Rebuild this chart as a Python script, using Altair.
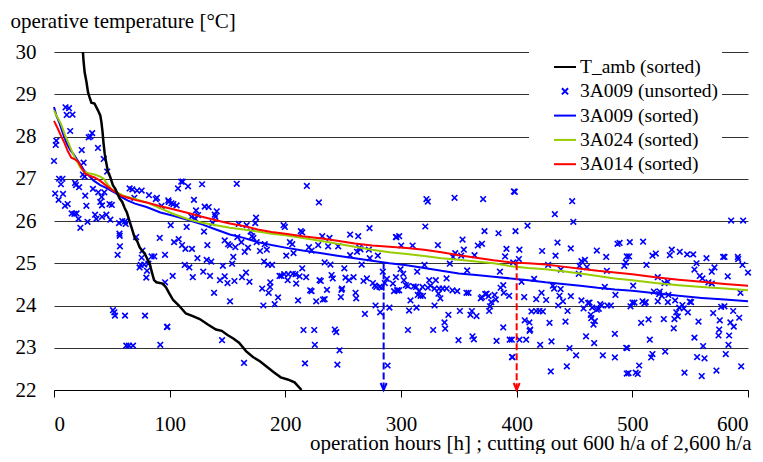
import altair as alt
import pandas as pd

# ---------------- data ----------------
names = ["T_amb (sorted)", "3A009 (unsorted)", "3A009 (sorted)", "3A024 (sorted)", "3A014 (sorted)"]
colors = ["#000000", "#0000ff", "#0000ff", "#99cc00", "#ff0000"]

x_ticks = [0, 100, 200, 300, 400, 500, 600]
y_ticks = [22, 23, 24, 25, 26, 27, 28, 29, 30]

tamb_h = [25, 25.5, 26.5, 28, 29.4, 30.5, 32.3, 35, 38, 40, 41, 42, 42.8, 43.8, 45, 46.7, 48.5, 51, 53,
          56.8, 59, 61.2, 63, 65.5, 67, 69.8, 72, 74, 76, 78.4, 82.7, 85, 86.5, 88.5, 94, 97, 99.4, 103,
          108, 114, 120, 126, 133, 140, 145, 150, 155, 160, 166, 172, 178, 184, 190, 196, 202, 208, 214]
tamb_t = [30.0, 29.8, 29.52, 29.3, 29.05, 28.95, 28.8, 28.78, 28.62, 28.5, 28.34, 28.1, 27.85, 27.6, 27.4,
          27.16, 27.05, 26.84, 26.76, 26.53, 26.45, 26.3, 26.2, 25.98, 25.85, 25.6, 25.52, 25.38, 25.3,
          25.23, 24.99, 24.75, 24.6, 24.55, 24.52, 24.42, 24.3, 24.13, 24.0, 23.81, 23.75, 23.68, 23.55,
          23.43, 23.4, 23.3, 23.22, 23.12, 22.92, 22.78, 22.68, 22.55, 22.42, 22.3, 22.25, 22.18, 22.0]

a009_h = [0, 2, 5, 8, 11, 14, 17, 20, 23, 26, 30, 34, 40, 46, 52, 58, 64, 70, 80, 92, 104, 116, 128, 140,
          152, 164, 176, 188, 200, 215, 230, 245, 260, 275, 290, 305, 320, 335, 350, 365, 380, 395, 410,
          425, 440, 455, 470, 485, 500, 520, 540, 560, 580, 600]
a009_t = [28.7, 28.5, 28.3, 28.05, 27.84, 27.68, 27.58, 27.45, 27.33, 27.2, 27.08, 26.96, 26.85, 26.77,
          26.68, 26.57, 26.48, 26.41, 26.33, 26.2, 26.12, 26.02, 25.92, 25.8, 25.68, 25.6, 25.5, 25.43,
          25.37, 25.3, 25.24, 25.18, 25.12, 25.06, 25.0, 24.95, 24.89, 24.82, 24.76, 24.72, 24.68, 24.64,
          24.6, 24.55, 24.51, 24.47, 24.42, 24.38, 24.35, 24.29, 24.23, 24.18, 24.14, 24.1]

a024_h = [0, 2, 4, 6, 8, 10, 12, 14, 16, 18, 20, 22, 24, 26, 30, 35, 40, 43, 46, 50, 54, 60, 70, 80, 92,
          104, 116, 128, 140, 152, 164, 176, 188, 200, 215, 230, 245, 260, 275, 290, 305, 320, 335, 350,
          365, 380, 395, 410, 425, 440, 455, 470, 485, 500, 520, 540, 560, 580, 600]
a024_t = [28.62, 28.5, 28.4, 28.3, 28.15, 28.0, 27.88, 27.75, 27.62, 27.5, 27.4, 27.3, 27.22, 27.17,
          27.13, 27.1, 27.05, 27.0, 26.88, 26.74, 26.68, 26.6, 26.52, 26.44, 26.3, 26.16, 26.04, 25.96,
          25.9, 25.84, 25.8, 25.75, 25.7, 25.66, 25.6, 25.53, 25.46, 25.39, 25.32, 25.26, 25.22, 25.17,
          25.12, 25.08, 25.04, 25.0, 24.93, 24.89, 24.86, 24.81, 24.76, 24.7, 24.64, 24.6, 24.53, 24.48,
          24.44, 24.4, 24.36]

a014_h = [0, 3, 6, 9, 12, 15, 18, 21, 24, 27, 30, 35, 40, 46, 52, 58, 64, 70, 80, 92, 104, 116, 128,
          140, 152, 164, 176, 188, 200, 215, 230, 245, 260, 275, 290, 305, 320, 335, 350, 365, 380, 395,
          410, 425, 440, 455, 470, 485, 500, 520, 540, 560, 580, 600]
a014_t = [28.37, 28.2, 28.02, 27.85, 27.65, 27.5, 27.46, 27.4, 27.25, 27.12, 27.08, 27.03, 26.95, 26.82,
          26.7, 26.6, 26.55, 26.5, 26.44, 26.35, 26.27, 26.19, 26.1, 26.02, 25.94, 25.88, 25.8, 25.74,
          25.7, 25.64, 25.59, 25.53, 25.47, 25.42, 25.39, 25.36, 25.32, 25.26, 25.19, 25.13, 25.07, 25.02,
          25.0, 24.97, 24.92, 24.87, 24.82, 24.78, 24.74, 24.67, 24.61, 24.56, 24.51, 24.47]

# 3A009 unsorted hourly values (h, T), split by 100 h ranges
scatter_000_100 = [
    (10, 28.69), (13, 28.67), (11, 28.51), (16, 28.52), (14, 28.13), (31.5, 28.0), (33, 28.08), (30, 27.98),
    (1.5, 27.8), (2, 27.9), (24, 27.68), (38, 27.73), (0, 27.42), (43, 27.47), (25.6, 27.38), (46, 27.17),
    (25, 27.1), (26.5, 27.05), (4.4, 27.0), (7.3, 27.0), (6, 26.87), (18.2, 26.9), (19, 26.85), (33.7, 26.76),
    (21.7, 26.8), (1, 26.65), (7.8, 26.64), (4, 26.5), (27, 26.6), (38.3, 26.68), (43.5, 26.68), (41.2, 26.57),
    (11.8, 26.4), (9.5, 26.36), (28, 26.36), (40, 26.45), (41.5, 26.37), (48, 26.4), (50, 26.38), (15.3, 26.18),
    (17.6, 26.17), (19.5, 26.18), (35.5, 26.15), (45.3, 26.15), (41.5, 26.1), (21.2, 26.05), (36.6, 26.05),
    (48.7, 26.03), (29, 25.98), (22.8, 25.84), (56.2, 25.95), (59, 26.0), (61.4, 25.99), (62, 25.93),
    (56.6, 25.7), (56.8, 25.65), (57, 25.4), (55, 25.2), (71, 25.62), (91.4, 25.6), (76.4, 25.3), (75.8, 25.13),
    (84.4, 25.16), (86.7, 25.16), (96, 25.2), (74, 24.9), (75, 24.96), (81.6, 24.99), (78, 24.97), (80.4, 24.82),
    (79.8, 24.66), (96, 24.55), (51, 23.89), (52.2, 23.84), (52.7, 23.76), (61.4, 23.76), (78.7, 23.76),
    (97.7, 23.49), (62.5, 23.05), (64.8, 23.05), (68.3, 23.05), (91.9, 23.07), (65.4, 26.77), (67.7, 26.75),
    (71.8, 26.72), (75.8, 26.72), (69.5, 26.55), (82.1, 26.61), (88, 26.52), (89, 26.55), (98.8, 26.49),
    (93, 26.36),
]
scatter_100_200 = [
    (110, 26.93), (111.3, 26.93), (107.2, 26.77), (115.9, 26.82), (128, 26.87), (158, 26.88), (121, 26.5),
    (99.2, 26.45), (101.5, 26.42), (103.2, 26.4), (106, 26.37), (130.3, 26.34), (133.7, 26.33), (122.8, 26.25),
    (140.7, 26.23), (139, 26.15), (139.5, 26.1), (124.5, 26.14), (118.8, 26.1), (122.2, 26.05), (174.7, 26.08),
    (137.2, 25.95), (100.9, 25.9), (114.7, 25.86), (159.7, 25.93), (166.6, 25.9), (174, 25.95), (129.7, 25.75),
    (170, 25.75), (171.2, 25.64), (172.4, 25.6), (158.5, 25.62), (147.6, 25.54), (150.5, 25.45), (103.8, 25.5),
    (107.8, 25.57), (110.7, 25.43), (113.6, 25.34), (119.3, 25.34), (132.6, 25.43), (152, 25.42), (156.8, 25.38),
    (162, 25.5), (167.7, 25.37), (175.2, 25.5), (182.2, 25.45), (178.1, 25.29), (164.9, 25.27), (184, 25.32),
    (155, 25.15), (124, 25.12), (132, 25.08), (136, 25.04), (154, 24.99), (146, 24.94), (181.6, 25.04),
    (185, 24.97), (188.5, 24.96), (113, 24.96), (117, 24.9), (129, 24.8), (102.6, 24.7), (120, 24.67),
    (134.9, 24.7), (166, 24.78), (147.6, 24.69), (143.5, 24.6), (156, 24.58), (150, 24.53), (162.6, 24.67),
    (169, 24.56), (180, 24.4), (187, 24.55), (186.8, 24.44), (138.4, 24.3), (185.6, 24.3), (193.7, 24.19),
    (196.6, 24.7), (152.2, 24.1), (181, 24.0), (190.8, 24.03), (98, 23.5), (145.3, 23.18), (164.3, 22.64),
]
scatter_200_300 = [
    (218.6, 26.83), (229, 26.44), (198.5, 25.9), (199.6, 25.86), (213.4, 25.76), (214.6, 25.73), (272.8, 25.83),
    (231.9, 25.64), (238.2, 25.6), (256, 25.68), (263, 25.64), (296, 25.62), (204, 25.5), (206, 25.45),
    (220.4, 25.38), (222.7, 25.3), (228.4, 25.43), (237, 25.4), (245.7, 25.4), (264, 25.37), (265, 25.33),
    (272.2, 25.32), (200.8, 25.18), (207.1, 25.24), (256, 25.19), (262, 25.27), (280, 25.18), (273, 25.12),
    (266, 24.97), (234, 25.02), (239, 24.97), (251, 24.88), (214.6, 24.88), (284.3, 24.8), (195, 24.7),
    (199, 24.74), (202.5, 24.74), (206.5, 24.75), (208.8, 24.74), (212.3, 24.69), (218, 24.67), (202, 24.6),
    (209.4, 24.52), (229.6, 24.6), (230.7, 24.58), (240, 24.72), (241, 24.64), (249, 24.4), (248.6, 24.37),
    (252, 24.66), (255, 24.6), (259, 24.67), (267.6, 24.58), (270.5, 24.64), (275.7, 24.53), (277.4, 24.47),
    (278.6, 24.44), (281.5, 24.44), (283.2, 24.42), (286, 24.53), (287.8, 24.63), (293, 24.52), (294, 24.34),
    (297, 24.36), (221.5, 24.36), (222.7, 24.34), (236, 24.37), (211, 24.12), (226.7, 24.1), (232.5, 24.14),
    (234, 24.15), (248, 24.2), (260.7, 24.3), (261.3, 24.17), (278, 24.0), (282, 23.84), (290, 23.95),
    (268.8, 23.8), (215.7, 23.42), (225, 23.42), (242.8, 23.43), (244, 23.37), (225.5, 23.07), (246.9, 22.94),
    (217, 22.63), (245, 22.6), (288.4, 22.58),
]
scatter_300_400 = [
    (322, 26.52), (323.2, 26.46), (346.3, 26.55), (371, 26.52), (397.6, 26.7), (321, 25.87), (295.6, 25.62),
    (298.4, 25.64), (300.2, 25.42), (310, 25.42), (331.9, 25.43), (353.2, 25.56), (372.2, 25.76), (384.3, 25.71),
    (370, 25.46), (366.4, 25.42), (391.2, 25.34), (354.3, 25.32), (352, 25.18), (346.9, 25.24), (345, 25.15),
    (363.6, 25.19), (390, 25.16), (397, 25.02), (342.2, 24.99), (320.3, 24.96), (357.2, 24.83), (385.5, 24.8),
    (314, 24.8), (301.9, 24.75), (299.6, 24.86), (295.6, 24.67), (302.5, 24.6), (339.4, 24.64), (324.4, 24.6),
    (330.1, 24.6), (304.2, 24.48), (306, 24.46), (311, 24.45), (313, 24.44), (296.7, 24.36), (298.4, 24.36),
    (318.6, 24.44), (323.2, 24.42), (325.5, 24.47), (315.7, 24.34), (316.9, 24.23), (314.5, 24.25), (319, 24.23),
    (329, 24.4), (333, 24.4), (336, 24.4), (332.4, 24.28), (334, 24.17), (339.4, 24.4), (344.5, 24.36),
    (348.6, 24.34), (356.6, 24.3), (358.4, 24.3), (369, 24.17), (370, 24.2), (374, 24.28), (372.8, 24.27),
    (380.9, 24.25), (375.7, 24.22), (382, 24.14), (378, 24.08), (377, 23.98), (376.2, 23.87), (386.1, 24.42),
    (388.4, 24.48), (388.9, 24.3), (393.5, 24.23), (308.2, 24.12), (307, 23.88), (313.4, 23.95), (329, 24.0),
    (341, 23.78), (350.9, 23.87), (361.3, 23.87), (360, 23.78), (365.3, 23.75), (337.6, 23.6), (338.2, 23.45),
    (306, 23.42), (327.8, 23.42), (388.4, 23.48), (349.7, 23.18), (361.8, 23.27), (363, 23.2), (382.6, 23.16),
    (394, 23.19), (395.8, 23.19), (396.4, 22.78),
]
scatter_400_500 = [
    (398.4, 26.69), (448, 26.47), (433, 26.16), (449, 25.98), (409.4, 25.89), (399, 25.76), (435.3, 25.49),
    (402.4, 25.32), (446.8, 25.35), (422, 25.29), (487.2, 25.46), (489, 25.48), (469.3, 25.3), (433.6, 25.18),
    (477.4, 25.15), (495.2, 25.16), (401.9, 25.1), (456, 25.05), (459, 25.08), (454.3, 24.94), (427.2, 24.96),
    (460.7, 24.91), (438.2, 24.85), (493, 24.94), (453.7, 24.75), (478, 24.82), (404.2, 24.56), (415.1, 24.63),
    (476.2, 24.44), (485.4, 24.25), (431.3, 24.47), (421.5, 24.3), (432.4, 24.4), (438, 24.39), (437, 24.23),
    (406.5, 24.2), (416.9, 24.15), (425.5, 24.13), (440, 24.1), (446.8, 24.22), (456, 24.12), (461.8, 24.06),
    (463, 24.07), (435.9, 24.0), (457.8, 23.93), (465.3, 23.95), (472.2, 24.03), (473.4, 24.0), (478.5, 24.0),
    (481.4, 24.0), (469.3, 23.9), (471, 23.92), (412.8, 23.86), (416.9, 23.87), (419.7, 23.87), (422.6, 23.86),
    (444, 23.87), (464.1, 23.78), (467.6, 23.63), (466.4, 23.55), (464.5, 23.7), (407, 23.65), (411, 23.6),
    (411.7, 23.43), (411.2, 23.4), (428.4, 23.59), (442.2, 23.62), (402.4, 23.19), (408.2, 23.19), (430.1, 23.15),
    (420.3, 23.07), (460, 23.27), (467, 23.11), (484.9, 23.33), (445.7, 22.99), (494.7, 23.0), (451.4, 22.82),
    (474.5, 22.82), (484.9, 22.77), (396, 22.78), (443.4, 22.56), (429.5, 22.44), (495.2, 22.39),
]
scatter_500_600 = [
    (585.4, 26.01), (595.8, 26.01), (497.8, 25.5), (509.3, 25.51), (534.1, 25.32), (541, 25.27), (547.4, 25.21),
    (552.6, 25.21), (532.4, 25.19), (517.4, 25.18), (520.3, 25.23), (564.1, 25.12), (578.5, 25.15), (579.7, 25.15),
    (591.2, 25.15), (591.5, 25.1), (497.2, 25.16), (494.4, 25.02), (512.2, 24.96), (555.5, 25.0), (571, 24.9),
    (568.7, 24.8), (595.2, 24.96), (600, 24.78), (553.7, 24.85), (522, 24.67), (558.3, 24.7), (560.6, 24.64),
    (565.8, 24.55), (568.7, 24.52), (582.5, 24.69), (500.7, 24.47), (593.5, 24.3), (518.6, 24.33), (523.7, 24.33),
    (527.8, 24.53), (530.7, 24.56), (523.2, 24.27), (525.5, 24.23), (531.2, 24.25), (537, 24.12), (549.7, 24.09),
    (550.8, 24.08), (500.1, 24.07), (501.8, 24.07), (498.4, 23.98), (508.8, 24.1), (511.6, 24.08), (510.5, 24.05),
    (530.7, 24.08), (522, 24.1), (543.3, 24.01), (540.5, 23.95), (544.5, 23.93), (548, 23.84), (576.8, 23.97),
    (579.6, 23.98), (587.2, 23.87), (592.4, 23.71), (569.9, 23.82), (538, 23.84), (536.4, 23.68), (535.8, 23.46),
    (539.3, 23.74), (527.2, 23.68), (507.6, 23.59), (514, 23.67), (557.2, 23.62), (575.6, 23.65), (575.1, 23.43),
    (574.5, 23.29), (584.8, 23.6), (587.7, 23.5), (583.7, 23.29), (553.7, 23.24), (515.1, 23.19), (561.2, 23.04),
    (583.1, 23.07), (495.5, 22.99), (528.4, 22.91), (517.4, 22.85), (516.3, 22.77), (556, 22.78), (562.4, 22.75),
    (580.8, 22.85), (505.9, 22.58), (572.7, 22.46), (594.1, 22.56), (496.7, 22.4), (503, 22.41), (504.7, 22.38),
    (545.1, 22.41), (560, 22.33),
]

# cut-off markers (hours, top temperature, colour)
cut_hours = [285, 400]
cut_top = [25.02, 25.0]
cut_colors = ["#0000ff", "#ff0000"]

# ---------------- tables ----------------
scatter = (scatter_000_100 + scatter_100_200 + scatter_200_300 + scatter_300_400
           + scatter_400_500 + scatter_500_600)
pts = pd.DataFrame(scatter, columns=["h", "T"])
pts["series"] = names[1]

amb = pd.DataFrame({"h": tamb_h, "T": tamb_t, "series": names[0]})
sorted_lines = pd.concat([
    pd.DataFrame({"h": a009_h, "T": a009_t, "series": names[2]}),
    pd.DataFrame({"h": a024_h, "T": a024_t, "series": names[3]}),
    pd.DataFrame({"h": a014_h, "T": a014_t, "series": names[4]}),
])
cuts = pd.DataFrame({"h": cut_hours, "T": cut_top, "T0": [22, 22], "c": cut_colors})

FONT = "Liberation Serif"
LINE_PATH = "M-1,0L1,0"
X_PATH = "M-0.28,-0.28L0.28,0.28M0.28,-0.28L-0.28,0.28"
ARROW_PATH = "M-0.6,-1.4L0,0L0.6,-1.4"

legend = alt.Legend(
    title=None, orient="none", legendX=475, legendY=0, padding=3, fillColor="white",
    symbolOffset=21, labelOffset=3, rowPadding=2.3, labelFontSize=19.5, labelFont=FONT,
    labelColor="black", symbolSize=484, symbolStrokeWidth=2,
    labelExpr="datum.label + '\u00a0\u00a0\u00a0\u00a0\u00a0'",
)
color_scale = alt.Scale(domain=names, range=colors)
shape_scale = alt.Scale(domain=names, range=[LINE_PATH, X_PATH, LINE_PATH, LINE_PATH, LINE_PATH])

x_enc = alt.X("h:Q", scale=alt.Scale(domain=[0, 600], nice=False),
              axis=alt.Axis(values=x_ticks, grid=False, domainColor="black", domainWidth=1,
                            tickColor="black", tickSize=7, labelFontSize=21, labelFont=FONT,
                            labelColor="black", labelPadding=16,
                            title="operation hours [h] ; cutting out 600 h/a of 2,600 h/a",
                            titleFont=FONT, titleFontSize=21, titleFontWeight="normal",
                            titleColor="black", titleX=697, titleY=59, titleAlign="right",
                            titleBaseline="alphabetic"))
y_enc = alt.Y("T:Q", scale=alt.Scale(domain=[22, 30], nice=False, zero=False),
              axis=alt.Axis(values=y_ticks, grid=True, gridColor="#333333", gridWidth=1,
                            domain=False, ticks=False, labelPadding=18, labelFontSize=21,
                            labelFont=FONT, labelColor="black",
                            title="operative temperature [°C]", titleFont=FONT, titleFontSize=21,
                            titleFontWeight="normal", titleColor="black", titleAngle=0,
                            titleX=-44, titleY=-25, titleAlign="left", titleBaseline="alphabetic"))

points = alt.Chart(pts).mark_point(filled=False, strokeWidth=1.6, size=400, opacity=1).encode(
    x=x_enc, y=y_enc,
    color=alt.Color("series:N", scale=color_scale, legend=legend),
    shape=alt.Shape("series:N", scale=shape_scale, legend=legend),
)
lines = alt.Chart(sorted_lines).mark_line(strokeWidth=2).encode(
    x="h:Q", y="T:Q", color=alt.Color("series:N", scale=color_scale, legend=legend),
)
amb_line = alt.Chart(amb).mark_line(strokeWidth=2.5).encode(
    x="h:Q", y="T:Q", color=alt.Color("series:N", scale=color_scale, legend=legend),
)
cut_rules = alt.Chart(cuts).mark_rule(strokeWidth=2, strokeDash=[7, 3]).encode(
    x="h:Q", y="T:Q", y2="T0:Q", stroke=alt.Stroke("c:N", scale=None, legend=None),
)
cut_heads = alt.Chart(cuts).mark_point(shape=ARROW_PATH, filled=False, size=100, strokeWidth=2,
                                       opacity=1).encode(
    x="h:Q", y="T0:Q", stroke=alt.Stroke("c:N", scale=None, legend=None),
)

chart = alt.layer(points, lines, amb_line, cut_rules, cut_heads).properties(
    width=694, height=338,
    autosize=alt.AutoSizeParams(type="none"),
    padding={"left": 46, "top": 44, "right": 7, "bottom": 64},
).configure_view(stroke=None)

chart.save("out.html", embed_options={"renderer": "svg", "actions": False})
